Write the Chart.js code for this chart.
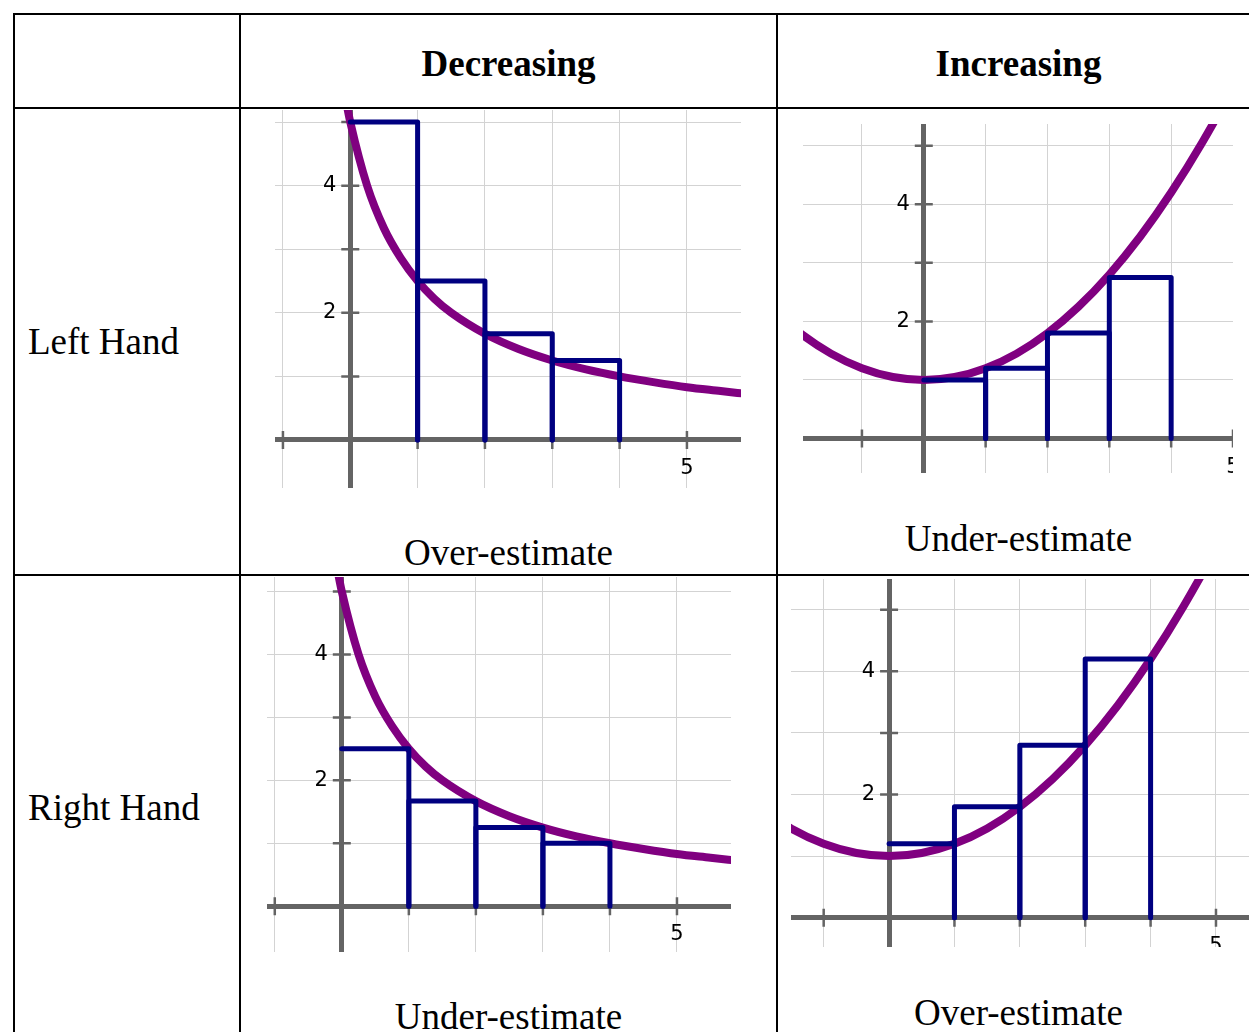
<!DOCTYPE html>
<html>
<head>
<meta charset="utf-8">
<script src="https://cdn.jsdelivr.net/npm/chart.js@4.4.0/dist/chart.umd.min.js"></script>
<style>
  html, body { margin: 0; padding: 0; background: #fff; }
  body { width: 1249px; height: 1032px; position: relative; overflow: hidden;
         font-family: "Liberation Serif", "Times New Roman", serif; color: #000; }
  .ln { position: absolute; background: #000; }
  .txt { position: absolute; font-size: 37px; line-height: 37px; white-space: nowrap; }
  .hd { font-weight: bold; text-align: center; }
  .cap { text-align: center; }
  .box { position: absolute; overflow: hidden; }
  .box canvas { display: block; }
</style>
</head>
<body>
<!-- ===== TABLA ===== -->
<div class="ln" style="left:13px;top:13px;width:1236px;height:2px"></div>
<div class="ln" style="left:13px;top:107px;width:1236px;height:2px"></div>
<div class="ln" style="left:13px;top:574px;width:1236px;height:2px"></div>
<div class="ln" style="left:13px;top:13px;width:2px;height:1019px"></div>
<div class="ln" style="left:239px;top:13px;width:2px;height:1019px"></div>
<div class="ln" style="left:776px;top:13px;width:2px;height:1019px"></div>

<div class="txt hd" style="left:241px;width:535px;top:45px">Decreasing</div>
<div class="txt hd" style="left:778px;width:481px;top:45px">Increasing</div>
<div class="txt" style="left:28px;top:323px">Left Hand</div>
<div class="txt" style="left:28px;top:789px">Right Hand</div>

<div class="txt cap" style="left:241px;width:535px;top:534px">Over-estimate</div>
<div class="txt cap" style="left:778px;width:481px;top:520px">Under-estimate</div>
<div class="txt cap" style="left:241px;width:535px;top:998px">Under-estimate</div>
<div class="txt cap" style="left:778px;width:481px;top:994px">Over-estimate</div>

<!-- ===== GRAFICOS ===== -->
<div class="box" style="left:275px;top:110px;width:466px;height:378px"><canvas id="decIzq" width="466" height="378"></canvas></div>
<div class="box" style="left:803px;top:124px;width:430px;height:349px"><canvas id="incIzq" width="430" height="349"></canvas></div>
<div class="box" style="left:267px;top:577px;width:464px;height:375px"><canvas id="decDer" width="464" height="375"></canvas></div>
<div class="box" style="left:791px;top:579px;width:458px;height:368px"><canvas id="incDer" width="458" height="368"></canvas></div>

<script>
// ========== DATOS ==========
const rectLeft = [0, 1, 2, 3];
const rectRight = [1, 2, 3, 4];
const decLeftH = [5, 2.5, 1.67, 1.25];
const decRightH = [2.5, 1.67, 1.25, 1];
const incLeftH = [1, 1.2, 1.8, 2.75];
const incRightH = [1.2, 1.8, 2.8, 4.2];

const decCurveX = [-0.1, -0.05, 0, 0.25, 0.5, 0.75, 1, 1.25, 1.5, 2, 2.5, 3, 3.5, 4, 4.5, 5, 5.5, 6];
const decCurveY = [5.56, 5.26, 5, 4, 3.33, 2.86, 2.5, 2.22, 2, 1.67, 1.43, 1.25, 1.11, 1, 0.91, 0.83, 0.77, 0.71];
const incCurveX = [-2.5, -2, -1.5, -1, -0.5, 0, 0.5, 1, 1.5, 2, 2.5, 3, 3.5, 4, 4.5, 5, 5.5];
const incCurveY = [2.25, 1.8, 1.45, 1.2, 1.05, 1, 1.05, 1.2, 1.45, 1.8, 2.25, 2.8, 3.45, 4.2, 5.05, 6, 7.05];

const xTickLabels = [5];
const yTickLabels = [2, 4];

// ========== ESTILO ==========
const PURPURA = '#800080';
const AZUL = '#000080';
const GRIS_EJE = '#646464';
const GRIS_GRID = '#d3d3d3';
const fuenteTicks = { family: '"DejaVu Sans", sans-serif', size: 21 };

function rectangulo(i, alturas) {
  const x0 = rectLeft[i], x1 = rectRight[i], h = alturas[i];
  // el lado izquierdo del primero queda sobre el eje y
  const pts = x0 === 0 ? [] : [{ x: x0, y: 0 }];
  pts.push({ x: x0, y: h }, { x: x1, y: h }, { x: x1, y: 0 });
  return pts;
}

// los ejes centrados no deben quitar sitio al area del grafico
function sinEspacio(scale) {
  scale.paddingLeft = 0;
  scale.paddingRight = 0;
  scale.paddingTop = 0;
  scale.paddingBottom = 0;
}

const marcasEjes = {
  id: 'marcasEjes',
  beforeDatasetsDraw(chart) {
    const { ctx, scales: { x, y } } = chart;
    const px0 = x.getPixelForValue(0);
    const py0 = y.getPixelForValue(0);
    ctx.save();
    ctx.strokeStyle = GRIS_EJE;
    ctx.lineWidth = 2.5;
    ctx.beginPath();
    x.ticks.forEach(t => {
      if (t.value === 0) return;
      const px = x.getPixelForValue(t.value);
      ctx.moveTo(px, py0 - 9);
      ctx.lineTo(px, py0 + 9);
    });
    y.ticks.forEach(t => {
      if (t.value === 0) return;
      const py = y.getPixelForValue(t.value);
      ctx.moveTo(px0 - 9, py);
      ctx.lineTo(px0 + 9, py);
    });
    ctx.stroke();

    // etiquetas del eje y, a la izquierda del eje
    ctx.font = `${fuenteTicks.size}px ${fuenteTicks.family}`;
    ctx.fillStyle = '#000';
    ctx.textAlign = 'right';
    ctx.textBaseline = 'middle';
    yTickLabels.forEach(v => {
      ctx.fillText(String(v), px0 - 14, y.getPixelForValue(v));
    });
    ctx.restore();
  }
};

function dibujar(id, curvaX, curvaY, alturas, rango) {
  const curva = curvaX.map((v, i) => ({ x: v, y: curvaY[i] }));
  const rects = alturas.map((_, i) => ({
    data: rectangulo(i, alturas),
    borderColor: AZUL,
    borderWidth: 5,
    borderCapStyle: 'round',
    borderJoinStyle: 'round',
    pointRadius: 0,
    tension: 0,
    fill: false,
    order: 0
  }));

  new Chart(document.getElementById(id), {
    type: 'line',
    data: {
      datasets: [{
        data: curva,
        borderColor: PURPURA,
        borderWidth: 8,
        pointRadius: 0,
        cubicInterpolationMode: 'monotone',
        fill: false,
        clip: 0,
        order: 1
      }, ...rects]
    },
    options: {
      responsive: false,
      devicePixelRatio: 1,
      animation: false,
      layout: { padding: 0 },
      plugins: { legend: { display: false }, tooltip: { enabled: false } },
      scales: {
        x: {
          type: 'linear',
          min: rango.x[0],
          max: rango.x[1],
          position: { y: 0 },
          afterFit: sinEspacio,
          grid: { color: GRIS_GRID, lineWidth: 1, drawTicks: false },
          border: { color: GRIS_EJE, width: 5 },
          ticks: {
            stepSize: 1, includeBounds: false, autoSkip: false, maxRotation: 0,
            padding: 16, color: '#000', font: fuenteTicks,
            callback: v => xTickLabels.includes(v) ? String(v) : ''
          }
        },
        y: {
          type: 'linear',
          min: rango.y[0],
          max: rango.y[1],
          position: { x: 0 },
          afterFit: sinEspacio,
          grid: { color: GRIS_GRID, lineWidth: 1, drawTicks: false },
          border: { color: GRIS_EJE, width: 5 },
          ticks: { stepSize: 1, includeBounds: false, display: false }
        }
      }
    },
    plugins: [marcasEjes]
  });
}

dibujar('decIzq', decCurveX, decCurveY, decLeftH, { x: [-1.118, 5.803], y: [-0.755, 5.19] });
dibujar('incIzq', incCurveX, incCurveY, incLeftH, { x: [-1.953, 5.0], y: [-0.588, 5.37] });
dibujar('decDer', decCurveX, decCurveY, decRightH, { x: [-1.116, 5.806], y: [-0.727, 5.23] });
dibujar('incDer', incCurveX, incCurveY, incRightH, { x: [-1.5, 5.505], y: [-0.476, 5.5] });
</script>
</body>
</html>
